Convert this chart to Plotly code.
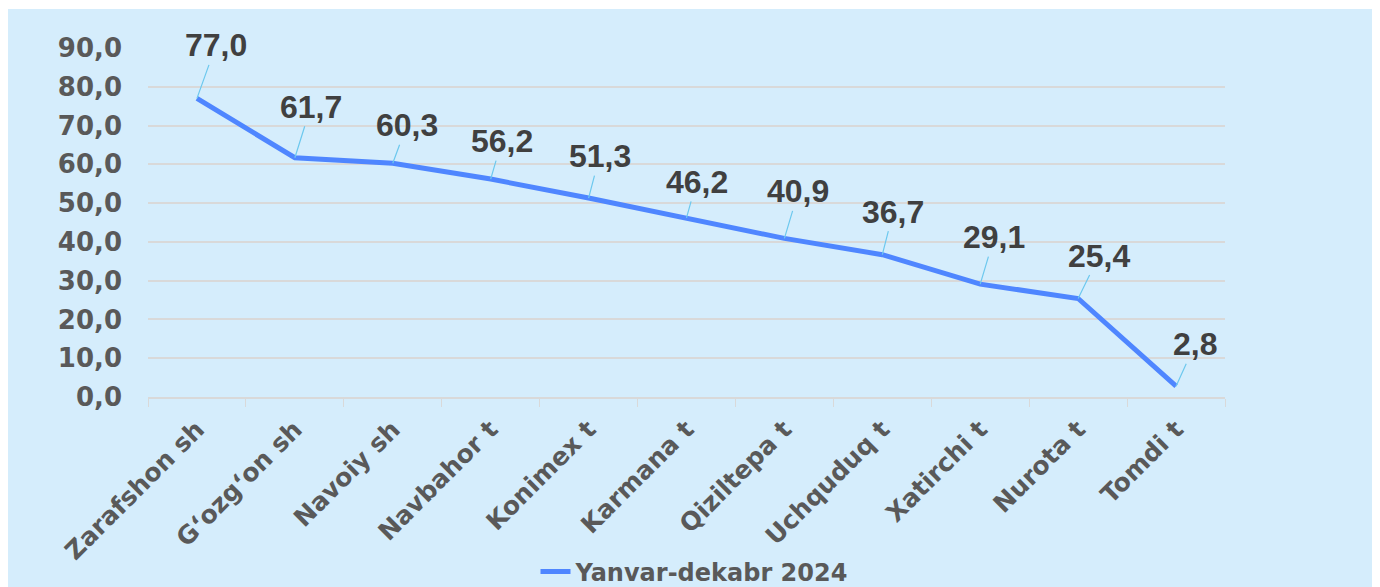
import plotly.graph_objects as go

districts = ["Zarafshon sh", "G\u2018ozg\u2018on sh", "Navoiy sh", "Navbahor t", "Konimex t",
             "Karmana t", "Qiziltepa t", "Uchquduq t", "Xatirchi t", "Nurota t", "Tomdi t"]
values = [77.0, 61.7, 60.3, 56.2, 51.3, 46.2, 40.9, 36.7, 29.1, 25.4, 2.8]
series_name = "Yanvar-dekabr 2024"
y_ticks = [0, 10, 20, 30, 40, 50, 60, 70, 80, 90]

# pixel offsets of each data label from its point (as placed in the original)
label_dx = [19, 16, 14, 11, 11, 10, 14, 11, 14, 21, 19]
label_dy = [-53, -51, -38, -38, -42, -36, -47, -43, -47, -43, -42]

bg = "#D5EDFC"
line_col = "#4F86FF"
axis_font = "DejaVu Sans"

fig = go.Figure()
fig.add_trace(go.Scatter(
    x=districts, y=values, mode="lines", name=series_name,
    line=dict(color=line_col, width=5),
    showlegend=True
))

# data labels with leader lines
annotations = []
for d, v, dx, dy in zip(districts, values, label_dx, label_dy):
    annotations.append(dict(
        x=d, y=v, xref="x", yref="y",
        text=f"{v:.1f}".replace(".", ","),
        showarrow=True, arrowhead=0, arrowwidth=1.2, arrowcolor="#6CC8EE",
        ax=dx, ay=dy, standoff=0,
        font=dict(family="Liberation Sans, Arial", size=32, color="#404040", weight="bold"),
    ))

# page has an 8px body margin, so the figure is sized to fit the window
W, H = 1372, 579
L, R, T, B = 140, 155, 40, 190
pw, ph = W - L - R, H - T - B

fig.update_layout(
    width=W, height=H,
    margin=dict(l=L, r=R, t=T, b=B, autoexpand=False),
    paper_bgcolor="white",
    plot_bgcolor="rgba(0,0,0,0)",
    font=dict(family=axis_font, color="#595959"),
    annotations=annotations,
    shapes=[dict(type="rect", xref="paper", yref="paper", layer="below",
                 x0=(-2 - L) / pw, x1=(1368 - L) / pw,
                 y0=-B / ph, y1=(H - B - 1) / ph,
                 fillcolor=bg, line=dict(width=0))],
    xaxis=dict(
        range=[-0.5, 10.5], automargin=False,
        tickangle=-45, tickfont=dict(size=25, family=axis_font, weight="bold"),
        showgrid=False, showline=True, linecolor="#D9D9D9", linewidth=1.5,
        ticks="outside", tickson="boundaries", ticklen=8, tickcolor="#D9D9D9",
        zeroline=False, ticklabelstandoff=6,
    ),
    yaxis=dict(
        range=[0, 90], tickvals=y_ticks, automargin=False,
        ticktext=[f"{t:.1f}".replace(".", ",") for t in y_ticks],
        tickfont=dict(size=26, family=axis_font, weight="bold"),
        showgrid=True, gridcolor="#D9D9D9", gridwidth=1.5,
        zeroline=False, showline=False, ticklabelstandoff=25,
    ),
    legend=dict(orientation="h", x=0.5 + 8 / pw, xanchor="center", y=-0.501, yanchor="middle",
                font=dict(size=24, family=axis_font, weight="bold", color="#595959"),
                bgcolor="rgba(0,0,0,0)"),
)

fig.write_html("out.html")
